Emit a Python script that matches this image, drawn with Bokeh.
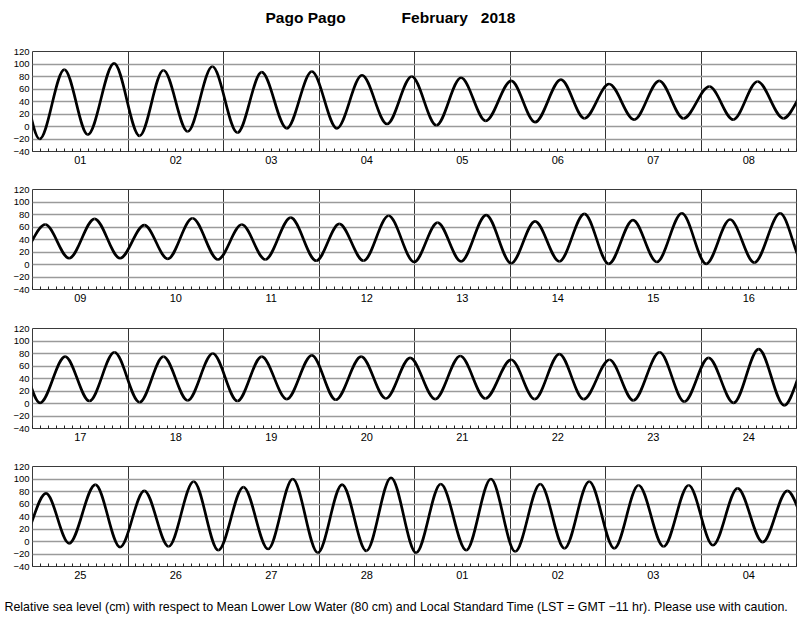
import numpy as np
from bokeh.plotting import figure
from bokeh.layouts import column
from bokeh.models import Range1d, FixedTicker, Title, ColumnDataSource
from bokeh.embed import file_html
from bokeh.resources import INLINE

# High / low water extremes: hours after 1 Feb 2018 00:00 LST, height in cm
extreme_hour = [
    -4.4, 1.8, 8.0, 13.9, 20.5, 26.9, 32.9, 39.0, 45.2, 51.5, 57.6, 63.9, 70.2, 76.5, 82.8, 89.1,
    95.3, 101.5, 107.7, 113.9, 120.3, 126.3, 132.8, 138.7, 144.9, 151.2, 157.5, 163.6, 170.1, 176.1, 182.2, 188.7,
    195.2, 201.2, 207.6, 214.0, 220.1, 226.0, 232.2, 238.6, 244.6, 250.5, 256.9, 263.3, 269.1, 275.2, 281.5, 287.9,
    293.8, 299.7, 306.0, 312.3, 318.3, 324.4, 330.7, 336.8, 342.9, 348.9, 355.2, 361.3, 367.3, 373.4, 379.9,
    385.9, 392.2, 398.3, 404.6, 410.9, 416.9, 423.0, 429.3, 435.5, 441.6, 447.9, 454.2, 460.2, 466.6, 472.8,
    478.9, 485.2, 491.5, 497.8, 504.3, 510.2, 516.4, 522.5, 529.0, 535.0, 541.6, 547.8, 553.9, 560.2, 566.5, 572.9,
    579.4, 585.2, 591.8, 598.0, 604.1, 610.2, 616.5, 622.7, 629.0, 635.2, 641.4, 647.7, 653.8, 659.9, 666.1,
    672.4, 678.6, 685.0, 691.2, 697.3, 703.6, 709.7, 715.9, 722.2, 728.3, 734.6, 740.9, 747.0, 753.2, 759.5, 765.7, 772.0,
]
extreme_cm = [
    106, -20, 91, -13, 101, -15, 90, -8, 96, -10, 87, -3, 88, -3, 82, 4,
    80, 2, 78, 9, 73, 7, 75, 13, 68, 11, 73, 13, 64, 11, 72, 13,
    64, 10, 73, 10, 63, 9, 74, 8, 64, 8, 75, 6, 65, 6, 78, 4,
    67, 5, 79, 2, 69, 5, 81, 1, 71, 4, 82, 1, 72, 3, 82,
    1, 75, 4, 82, 2, 75, 5, 80, 4, 75, 7, 77, 6, 75, 8,
    73, 7, 76, 8, 70, 7, 79, 7, 70, 5, 82, 3, 73, 1, 87, -3,
    77, -3, 91, -9, 81, -8, 96, -14, 87, -12, 100, -18, 91, -15, 102,
    -18, 92, -14, 100, -16, 92, -11, 96, -11, 90, -8, 90, -6, 85, -1, 81, 8,
]

day_labels = ["01", "02", "03", "04", "05", "06", "07", "08",
              "09", "10", "11", "12", "13", "14", "15", "16",
              "17", "18", "19", "20", "21", "22", "23", "24",
              "25", "26", "27", "28", "01", "02", "03", "04"]
y_ticks = [-40, -20, 0, 20, 40, 60, 80, 100, 120]
title_place = "Pago Pago"
title_month = "February"
title_year = "2018"
footer_text = ("Relative sea level (cm) with respect to Mean Lower Low Water (80 cm) and "
               "Local Standard Time (LST = GMT \u221211 hr). Please use with caution.")

HOURS_PER_DAY = 24
DAYS_PER_PANEL = 8
FONT = "Liberation Sans"
WIDTH = 799

t = np.array(extreme_hour, dtype=float)
h = np.array(extreme_cm, dtype=float)
dt = t[1:] - t[:-1]
src = ColumnDataSource(dict(
    x0=t[:-1], y0=h[:-1], x1=t[1:], y1=h[1:],
    cx0=t[:-1] + dt / 3.0, cy0=h[:-1], cx1=t[1:] - dt / 3.0, cy1=h[1:],
))

n_days = len(day_labels)
day_edges = [d * HOURS_PER_DAY for d in range(n_days + 1)]
day_centers = [d * HOURS_PER_DAY + HOURS_PER_DAY // 2 for d in range(n_days)]
two_hours = list(range(0, n_days * HOURS_PER_DAY + 1, 2))
x_overrides = {c: lab for c, lab in zip(day_centers, day_labels)}
y_overrides = {v: (("\u2212" + str(-v)) if v < 0 else str(v)) for v in y_ticks}


def text_strip(height, top, bottom):
    s = figure(width=WIDTH, height=height, title=None,
               x_range=Range1d(0, 1), y_range=Range1d(0, 1),
               x_axis_location=None, y_axis_location=None,
               output_backend="svg", toolbar_location=None,
               min_border_left=32, min_border_right=3,
               min_border_top=top, min_border_bottom=bottom)
    s.outline_line_color = None
    s.grid.visible = False
    s.background_fill_color = "white"
    s.border_fill_color = "white"
    return s


sp = "\u00a0"
header = text_strip(36, 0, 35)
header.add_layout(Title(text=title_place + sp * 13 + title_month + sp * 3 + title_year,
                        align="left", offset=233,
                        text_font=FONT, text_font_size="15.5px", text_font_style="bold",
                        text_color="black"), "below")

specs = [(135, 15, 20), (138, 18, 20), (139, 19, 20), (138, 18, 20)]
figs = []
for k, (hgt, top, bot) in enumerate(specs):
    start = k * DAYS_PER_PANEL * HOURS_PER_DAY
    p = figure(width=WIDTH, height=hgt, title=None,
               x_range=Range1d(start, start + DAYS_PER_PANEL * HOURS_PER_DAY),
               y_range=Range1d(y_ticks[0], y_ticks[-1]),
               output_backend="svg", toolbar_location=None,
               min_border_left=32, min_border_right=3,
               min_border_top=top, min_border_bottom=bot)
    p.outline_line_color = "#3a3a3a"
    p.outline_line_width = 1
    p.background_fill_color = "white"
    p.border_fill_color = "white"

    p.xaxis.ticker = FixedTicker(ticks=day_centers, minor_ticks=two_hours)
    p.xaxis.major_label_overrides = x_overrides
    p.xaxis.major_tick_in = 0
    p.xaxis.major_tick_out = 0
    p.xaxis.minor_tick_in = 3
    p.xaxis.minor_tick_out = 0
    p.xaxis.minor_tick_line_color = "#222222"
    p.xaxis.axis_line_color = None
    p.xaxis.major_label_standoff = 4
    p.xaxis.major_label_text_font = FONT
    p.xaxis.major_label_text_font_size = "11px"
    p.xaxis.major_label_text_color = "black"

    p.yaxis.ticker = FixedTicker(ticks=y_ticks)
    p.yaxis.major_label_overrides = y_overrides
    p.yaxis.major_tick_in = 0
    p.yaxis.major_tick_out = 0
    p.yaxis.minor_tick_line_color = None
    p.yaxis.axis_line_color = None
    p.yaxis.major_label_standoff = 3
    p.yaxis.major_label_text_font = FONT
    p.yaxis.major_label_text_font_size = "9.5px"
    p.yaxis.major_label_text_color = "black"

    p.xgrid.ticker = FixedTicker(ticks=day_edges)
    p.xgrid.grid_line_color = "#333333"
    p.xgrid.grid_line_width = 1
    p.ygrid.ticker = FixedTicker(ticks=y_ticks)
    p.ygrid.grid_line_color = "#9a9a9a"
    p.ygrid.grid_line_width = 1.3

    p.bezier(x0="x0", y0="y0", x1="x1", y1="y1", cx0="cx0", cy0="cy0",
             cx1="cx1", cy1="cy1", source=src, line_color="black", line_width=2.7)
    figs.append(p)

footer = text_strip(32, 5, 26)
footer.add_layout(Title(text=footer_text, align="left", offset=-28,
                        text_font=FONT, text_font_size="12.4px", text_font_style="normal",
                        text_color="black"), "below")

layout = column(header, *figs, footer, spacing=0)
open("out.html", "w").write(file_html(layout, INLINE))
